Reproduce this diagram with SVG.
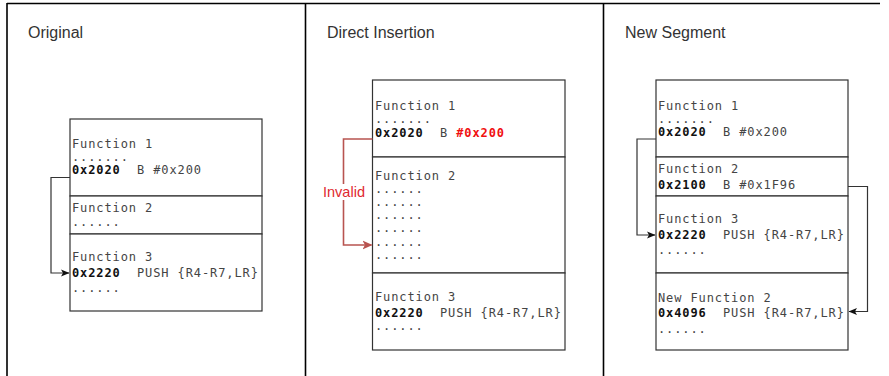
<svg xmlns="http://www.w3.org/2000/svg" width="889" height="376" viewBox="0 0 889 376">
<defs>
<style>
.frame{stroke:#000;stroke-width:1.6;fill:none}
.box{fill:#fff;stroke:#333;stroke-width:1.2}
.title{font-family:"Liberation Sans",Arial,sans-serif;font-size:16px;fill:#333}
.mono{font-family:"DejaVu Sans Mono","Liberation Mono",monospace;font-size:12px;letter-spacing:0.9px;fill:#444;white-space:pre}
.b{font-weight:bold;fill:#111}
.red{fill:#f01010}
.conn{fill:none;stroke:#333;stroke-width:1.2}
.connr{fill:none;stroke:#b85450;stroke-width:1.6}
.lbl{font-family:"Liberation Sans",Arial,sans-serif;font-size:14.5px;fill:#e0282f}
</style>
<marker id="ah" markerWidth="10" markerHeight="8" refX="8" refY="4" orient="auto" markerUnits="userSpaceOnUse">
<path d="M0,0.5 L8.5,4 L0,7.5 L2,4 Z" fill="#111"/>
</marker>
<marker id="ahr" markerWidth="12" markerHeight="10" refX="9" refY="5" orient="auto" markerUnits="userSpaceOnUse">
<path d="M0,0.5 L10,5 L0,9.5 L2.5,5 Z" fill="#b85450"/>
</marker>
</defs>
<rect width="889" height="376" fill="#fff"/>
<g id="frame">
<path class="frame" d="M7,3.5 H880 M7,3 V376 M305.5,3 V376 M603.5,3 V376"/>
<text class="title" x="28" y="38">Original</text>
<text class="title" x="327" y="38">Direct Insertion</text>
<text class="title" x="625" y="38">New Segment</text>
</g>
<!-- Panel 1 -->
<g id="p1-function1">
<rect class="box" x="70" y="119" width="192" height="77"/>
<text class="mono" x="72" y="148">Function 1</text>
<text class="mono" x="72" y="161" xml:space="preserve">.......</text>
<text class="mono" x="72" y="174" xml:space="preserve"><tspan class="b">0x2020</tspan>  B #0x200</text>
</g>
<g id="p1-function2">
<rect class="box" x="70" y="196" width="192" height="38"/>
<text class="mono" x="72" y="212">Function 2</text>
<text class="mono" x="72" y="226">......</text>
</g>
<g id="p1-function3">
<rect class="box" x="70" y="234" width="192" height="77"/>
<text class="mono" x="72" y="261">Function 3</text>
<text class="mono" x="72" y="277" xml:space="preserve"><tspan class="b">0x2220</tspan>  PUSH {R4-R7,LR}</text>
<text class="mono" x="72" y="292">......</text>
</g>
<!-- Panel 2 -->
<g id="p2-function1">
<rect class="box" x="372.5" y="80" width="192.5" height="77"/>
<text class="mono" x="375" y="110">Function 1</text>
<text class="mono" x="375" y="123">.......</text>
<text class="mono" x="375" y="137" xml:space="preserve"><tspan class="b">0x2020</tspan>  B <tspan class="b red">#0x200</tspan></text>
</g>
<g id="p2-function2">
<rect class="box" x="372.5" y="157" width="192.5" height="116"/>
<text class="mono" x="375" y="180">Function 2</text>
<text class="mono" x="375" y="193">......</text>
<text class="mono" x="375" y="206">......</text>
<text class="mono" x="375" y="219">......</text>
<text class="mono" x="375" y="232">......</text>
<text class="mono" x="375" y="246">......</text>
<text class="mono" x="375" y="259">......</text>
</g>
<g id="p2-function3">
<rect class="box" x="372.5" y="273" width="192.5" height="77"/>
<text class="mono" x="375" y="301">Function 3</text>
<text class="mono" x="375" y="317" xml:space="preserve"><tspan class="b">0x2220</tspan>  PUSH {R4-R7,LR}</text>
<text class="mono" x="375" y="330">......</text>
</g>
<!-- Panel 3 -->
<g id="p3-function1">
<rect class="box" x="656" y="80" width="192" height="77"/>
<text class="mono" x="658" y="110">Function 1</text>
<text class="mono" x="658" y="123">.......</text>
<text class="mono" x="658" y="136" xml:space="preserve"><tspan class="b">0x2020</tspan>  B #0x200</text>
</g>
<g id="p3-function2">
<rect class="box" x="656" y="157" width="192" height="39"/>
<text class="mono" x="658" y="173">Function 2</text>
<text class="mono" x="658" y="189" xml:space="preserve"><tspan class="b">0x2100</tspan>  B #0x1F96</text>
</g>
<g id="p3-function3">
<rect class="box" x="656" y="196" width="192" height="77"/>
<text class="mono" x="658" y="223">Function 3</text>
<text class="mono" x="658" y="239" xml:space="preserve"><tspan class="b">0x2220</tspan>  PUSH {R4-R7,LR}</text>
<text class="mono" x="658" y="254">......</text>
</g>
<g id="p3-newfunction2">
<rect class="box" x="656" y="273" width="192" height="77"/>
<text class="mono" x="658" y="302">New Function 2</text>
<text class="mono" x="658" y="317" xml:space="preserve"><tspan class="b">0x4096</tspan>  PUSH {R4-R7,LR}</text>
<text class="mono" x="658" y="333">......</text>
</g>
<g id="connectors">
<path class="conn" d="M70,177.5 H51 V273 H69" marker-end="url(#ah)"/>
<path class="connr" d="M372.5,139 H343.5 V245 H371.5" marker-end="url(#ahr)"/>
<rect x="321" y="184" width="46" height="16" fill="#fff"/>
<text class="lbl" x="344" y="197" text-anchor="middle">Invalid</text>
<path class="conn" d="M656,139 H637 V235 H655" marker-end="url(#ah)"/>
<path class="conn" d="M848,186.5 H867.5 V311.5 H849" marker-end="url(#ah)"/>
</g>
</svg>
